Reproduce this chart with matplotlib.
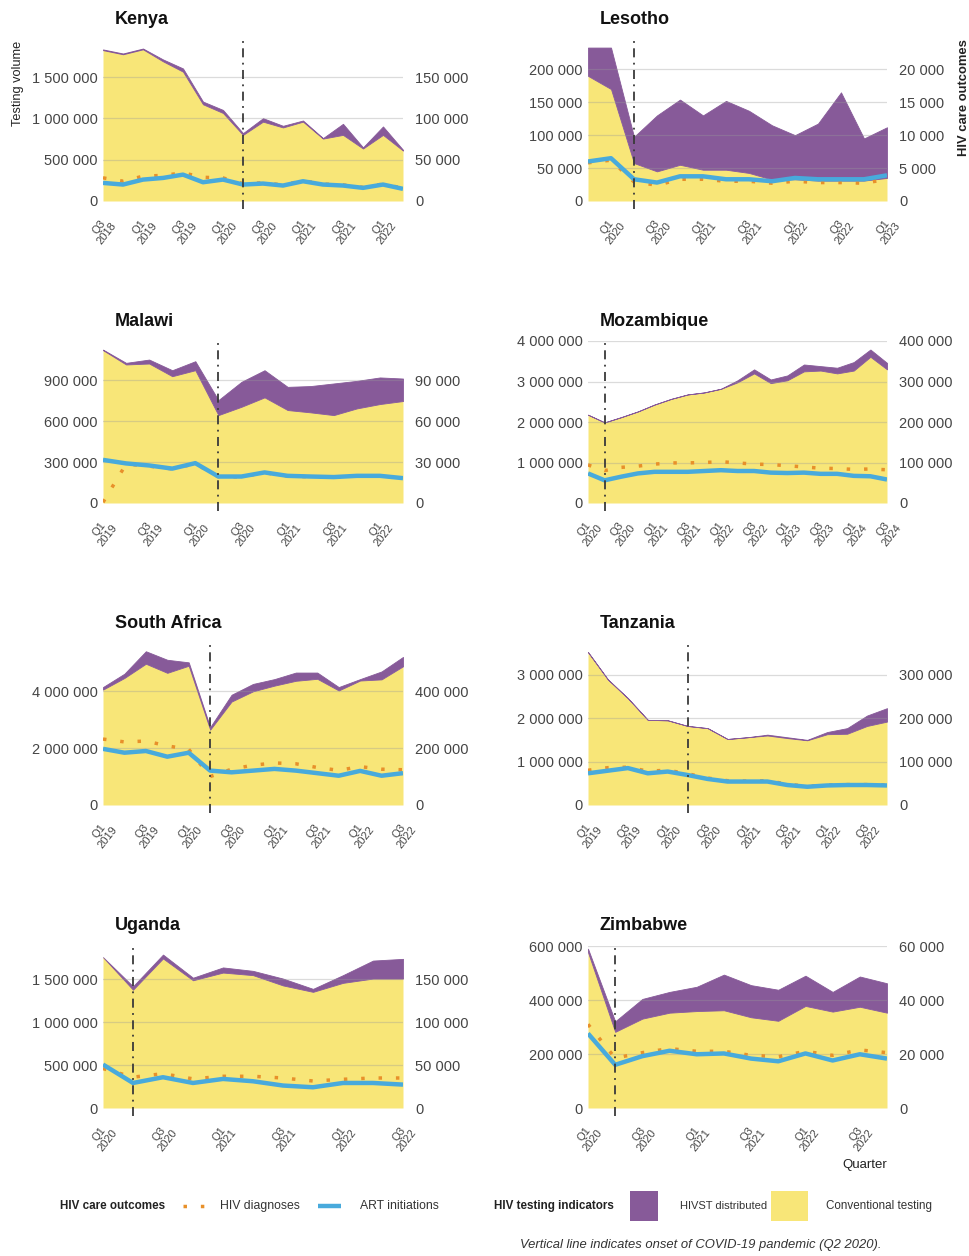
import matplotlib
matplotlib.use("Agg")
import matplotlib.pyplot as plt
from matplotlib.lines import Line2D
from matplotlib.patches import Rectangle
from matplotlib.ticker import FuncFormatter
from matplotlib.transforms import ScaledTranslation

plt.rcParams['font.family'] = ['Liberation Sans', 'DejaVu Sans']

# ---------------------------------------------------------------- data
kenya_q = ["Q3 2018", "Q4 2018", "Q1 2019", "Q2 2019", "Q3 2019", "Q4 2019", "Q1 2020", "Q2 2020",
           "Q3 2020", "Q4 2020", "Q1 2021", "Q2 2021", "Q3 2021", "Q4 2021", "Q1 2022", "Q2 2022"]
kenya_conv = [1825000, 1775000, 1835000, 1690000, 1565000, 1170000, 1065000, 800000,
              960000, 890000, 960000, 755000, 800000, 635000, 800000, 610000]
kenya_hivst = [9000, 10000, 10000, 23000, 39000, 33000, 37000, 21000,
               42000, 20000, 14000, 6000, 134000, 14000, 102000, 10000]
kenya_diag = [28000, 24000, 30000, 31000, 34000, 28700, 27900, 21000,
              22000, 19500, 24500, 20500, 19500, 16500, 20500, 15500]
kenya_art = [21900, 19900, 25900, 27900, 31900, 22700, 25900, 19900,
             21100, 18700, 23900, 19900, 18700, 15900, 19900, 14700]

lesotho_q = ["Q4 2019", "Q1 2020", "Q2 2020", "Q3 2020", "Q4 2020", "Q1 2021", "Q2 2021",
             "Q3 2021", "Q4 2021", "Q1 2022", "Q2 2022", "Q3 2022", "Q4 2022", "Q1 2023"]
lesotho_conv = [190000, 170000, 57600, 45000, 55000, 47500, 47500,
                42600, 32600, 33000, 31000, 31000, 31000, 35000]
lesotho_hivst = [43000, 63000, 39900, 85000, 99000, 82500, 104500,
                 94400, 82400, 67000, 86600, 134000, 64000, 77000]
lesotho_diag = [5800, 6200, 2900, 2400, 3300, 3300, 3000, 3000, 2700, 3000, 2800, 2800, 2700, 3300]
lesotho_art = [6000, 6500, 3300, 2800, 3750, 3750, 3300, 3300, 3000, 3500, 3300, 3300, 3300, 3900]

malawi_q = ["Q1 2019", "Q2 2019", "Q3 2019", "Q4 2019", "Q1 2020", "Q2 2020", "Q3 2020",
            "Q4 2020", "Q1 2021", "Q2 2021", "Q3 2021", "Q4 2021", "Q1 2022", "Q2 2022"]
malawi_conv = [1120000, 1015000, 1022000, 929000, 973000, 644000, 705000,
               774000, 681000, 664000, 644000, 693000, 725000, 747000]
malawi_hivst = [4000, 12000, 29000, 44000, 66000, 110000, 183000,
                199000, 170000, 193000, 232000, 202000, 195000, 165000]
malawi_diag = [500, 28500, 27000, 25000, 28800, 19200, 19200, 22200, 19700, 19200, 18800, 19700, 19700, 18000]
malawi_art = [31600, 29000, 27500, 25200, 29200, 19400, 19400, 22400, 19900, 19400, 19000, 19900, 19900, 18200]

mozambique_q = ["Q1 2020", "Q2 2020", "Q3 2020", "Q4 2020", "Q1 2021", "Q2 2021", "Q3 2021",
                "Q4 2021", "Q1 2022", "Q2 2022", "Q3 2022", "Q4 2022", "Q1 2023", "Q2 2023",
                "Q3 2023", "Q4 2023", "Q1 2024", "Q2 2024", "Q3 2024"]
mozambique_conv = [2180000, 1990000, 2120000, 2260000, 2430000, 2570000, 2680000,
                   2730000, 2820000, 2980000, 3200000, 2960000, 3030000, 3250000,
                   3270000, 3200000, 3270000, 3610000, 3300000]
mozambique_hivst = [0, 0, 0, 0, 0, 0, 0,
                    0, 0, 50000, 100000, 90000, 120000, 170000,
                    110000, 140000, 210000, 180000, 160000]
mozambique_diag = [94000, 80000, 88000, 91000, 96000, 99000, 99000, 100000, 102000, 99000,
                   96000, 95000, 92000, 89000, 86000, 85000, 83000, 84000, 82000]
mozambique_art = [73000, 56000, 65000, 73000, 77000, 77000, 77000, 79000, 81000, 79000,
                  79000, 75000, 74000, 75000, 72000, 72000, 67000, 66000, 58000]

southafrica_q = ["Q1 2019", "Q2 2019", "Q3 2019", "Q4 2019", "Q1 2020", "Q2 2020", "Q3 2020",
                 "Q4 2020", "Q1 2021", "Q2 2021", "Q3 2021", "Q4 2021", "Q1 2022", "Q2 2022", "Q3 2022"]
southafrica_conv = [4060000, 4470000, 4970000, 4650000, 4900000, 2650000, 3640000,
                    4000000, 4200000, 4370000, 4440000, 4030000, 4380000, 4420000, 4880000]
southafrica_hivst = [90000, 150000, 440000, 460000, 120000, 90000, 240000,
                     260000, 230000, 290000, 220000, 120000, 50000, 280000, 330000]
southafrica_diag = [232000, 222000, 225000, 208000, 196000, 100000, 126000, 140000,
                    148000, 145000, 132000, 122000, 135000, 126000, 124000]
southafrica_art = [197500, 184000, 190000, 170000, 184000, 121000, 115000, 121000,
                   127000, 121000, 112000, 103000, 120000, 103000, 112000]

tanzania_q = ["Q1 2019", "Q2 2019", "Q3 2019", "Q4 2019", "Q1 2020", "Q2 2020", "Q3 2020", "Q4 2020",
              "Q1 2021", "Q2 2021", "Q3 2021", "Q4 2021", "Q1 2022", "Q2 2022", "Q3 2022", "Q4 2022"]
tanzania_conv = [3520000, 2890000, 2460000, 1960000, 1950000, 1820000, 1770000, 1520000,
                 1560000, 1600000, 1540000, 1490000, 1630000, 1640000, 1820000, 1920000]
tanzania_hivst = [0, 0, 0, 0, 0, 0, 0, 0,
                  0, 20000, 20000, 10000, 50000, 130000, 240000, 310000]
tanzania_diag = [80000, 86000, 87000, 78000, 80000, 72000, 62000, 56000,
                 55000, 56000, 48000, 43000, 46000, 47000, 47000, 46000]
tanzania_art = [73000, 79000, 85000, 73000, 77000, 69000, 60000, 54000,
                54000, 54000, 46000, 42000, 45000, 46000, 46000, 45000]

uganda_q = ["Q1 2020", "Q2 2020", "Q3 2020", "Q4 2020", "Q1 2021", "Q2 2021",
            "Q3 2021", "Q4 2021", "Q1 2022", "Q2 2022", "Q3 2022"]
uganda_conv = [1760000, 1380000, 1745000, 1490000, 1580000, 1550000,
               1430000, 1355000, 1460000, 1510000, 1510000]
uganda_hivst = [0, 40000, 45000, 30000, 60000, 50000, 80000, 35000, 90000, 210000, 230000]
uganda_diag = [46000, 36000, 40000, 34000, 37000, 37000, 35000, 31500, 33500, 35000, 35000]
uganda_art = [50700, 29200, 35900, 29200, 33900, 31200, 26200, 24200, 29200, 29200, 27300]

zimbabwe_q = ["Q1 2020", "Q2 2020", "Q3 2020", "Q4 2020", "Q1 2021", "Q2 2021",
              "Q3 2021", "Q4 2021", "Q1 2022", "Q2 2022", "Q3 2022", "Q4 2022"]
zimbabwe_conv = [577000, 282000, 331000, 353000, 359000, 362000,
                 336000, 323000, 378000, 357000, 375000, 353000]
zimbabwe_hivst = [13000, 39000, 73000, 77000, 90000, 132000,
                  119000, 115000, 112000, 73000, 112000, 109000]
zimbabwe_diag = [31000, 18500, 20500, 22000, 21000, 21000, 19500, 19000, 21000, 19500, 21500, 20500]
zimbabwe_art = [27600, 16000, 19200, 21200, 19900, 20200, 18300, 17300, 20200, 17600, 19900, 18300]

covid_onset = "Q2 2020"

# ---------------------------------------------------------------- style
YELLOW = "#F8E678"
PURPLE = "#875A99"
BLUE = "#48AADC"
ORANGE = "#E8902A"
TICK_COLOR = "#454545"

W, H = 970, 1256
fig = plt.figure(figsize=(W / 100, H / 100), dpi=100)
fig.patch.set_facecolor("white")

COL_LEFT = [103, 588]
COL_WIDTH = [300, 299]
ROW_TOP = [39, 341, 643, 946]
AX_H = 170
ZERO_PAD = 8  # pixels between the zero line and the bottom of each panel


def fx(px):
    return px / W


def fy(py):
    return 1 - py / H


def thousands(v, _pos=None):
    return f"{int(round(v)):,}".replace(",", " ")


panels = [
    ("Kenya", kenya_q, kenya_conv, kenya_hivst, kenya_diag, kenya_art,
     1960000, [0, 500000, 1000000, 1500000], 0, 0),
    ("Lesotho", lesotho_q, lesotho_conv, lesotho_hivst, lesotho_diag, lesotho_art,
     246000, [0, 50000, 100000, 150000, 200000], 0, 1),
    ("Malawi", malawi_q, malawi_conv, malawi_hivst, malawi_diag, malawi_art,
     1187000, [0, 300000, 600000, 900000], 1, 0),
    ("Mozambique", mozambique_q, mozambique_conv, mozambique_hivst, mozambique_diag, mozambique_art,
     4000000, [0, 1000000, 2000000, 3000000, 4000000], 1, 1),
    ("South Africa", southafrica_q, southafrica_conv, southafrica_hivst, southafrica_diag, southafrica_art,
     5700000, [0, 2000000, 4000000], 2, 0),
    ("Tanzania", tanzania_q, tanzania_conv, tanzania_hivst, tanzania_diag, tanzania_art,
     3730000, [0, 1000000, 2000000, 3000000], 2, 1),
    ("Uganda", uganda_q, uganda_conv, uganda_hivst, uganda_diag, uganda_art,
     1890000, [0, 500000, 1000000, 1500000], 3, 0),
    ("Zimbabwe", zimbabwe_q, zimbabwe_conv, zimbabwe_hivst, zimbabwe_diag, zimbabwe_art,
     600000, [0, 200000, 400000, 600000], 3, 1),
]

# shift rotated quarter labels a little to the right of their tick
label_shift = ScaledTranslation(6 / 100, 0, fig.dpi_scale_trans)

for name, quarters, conv, hivst, diag, art, ymax, yticks, row, col in panels:
    left, top, width = COL_LEFT[col], ROW_TOP[row], COL_WIDTH[col]
    ax = fig.add_axes([fx(left), fy(top + AX_H), width / W, AX_H / H])
    x = list(range(len(quarters)))
    total = [c + h for c, h in zip(conv, hivst)]
    ylo = -ymax * ZERO_PAD / (AX_H - ZERO_PAD)

    # stacked testing volumes
    ax.fill_between(x, 0, conv, color=YELLOW, lw=0, zorder=1)
    ax.fill_between(x, conv, total, facecolor=PURPLE, edgecolor=PURPLE, lw=0.6, zorder=1.2)
    for t in yticks:
        if t > 0:
            ax.axhline(t, color="#9a9a9a", lw=0.9, alpha=0.35, zorder=1.5)

    ax.set_xlim(0, len(quarters) - 1)
    ax.set_ylim(ylo, ymax)
    ax.set_yticks(yticks)
    ax.yaxis.set_major_formatter(FuncFormatter(thousands))
    tick_idx = [i for i, q in enumerate(quarters) if q[:2] in ("Q1", "Q3")]
    ax.set_xticks(tick_idx)
    labels = ax.set_xticklabels([quarters[i].replace(" ", "\n") for i in tick_idx],
                                rotation=52, ha="right", va="top", rotation_mode="anchor",
                                fontsize=8, color=TICK_COLOR, linespacing=1.0,
                                multialignment="center")
    for lab in labels:
        lab.set_transform(lab.get_transform() + label_shift)
    ax.tick_params(axis="y", length=0, labelsize=10.5, labelcolor=TICK_COLOR, pad=4)
    ax.tick_params(axis="x", length=0, pad=4)
    for s in ax.spines.values():
        s.set_visible(False)

    # care outcomes on the secondary axis
    ax2 = ax.twinx()
    ax2.set_ylim(ylo / 10, ymax / 10)
    ax2.set_yticks([t / 10 for t in yticks])
    ax2.yaxis.set_major_formatter(FuncFormatter(thousands))
    ax2.tick_params(axis="y", length=0, labelsize=10.5, labelcolor=TICK_COLOR, pad=9)
    for s in ax2.spines.values():
        s.set_visible(False)
    ax2.plot(x, diag, color=ORANGE, lw=2.5, ls=(0, (1, 4)), dash_capstyle="butt", zorder=3)
    ax2.plot(x, art, color=BLUE, lw=3.2, solid_capstyle="butt", solid_joinstyle="round", zorder=4)
    ax2.axvline(quarters.index(covid_onset), color="#3a3a3a", lw=1.3,
                ls=(0, (5, 3, 1, 3)), zorder=5, clip_on=False)

    fig.text(fx(left + 12), fy(top - 20), name, ha="left", va="center",
             fontsize=13, fontweight="bold", color="#111111")

# axis titles
fig.text(fx(18), fy(83), "Testing volume", rotation=90, ha="center", va="center",
         fontsize=9.2, color="#222222")
fig.text(fx(964), fy(98), "HIV care outcomes", rotation=90, ha="center", va="center",
         fontsize=9.4, fontweight="bold", color="#222222")
fig.text(fx(887), fy(1165), "Quarter", ha="right", va="center", fontsize=9.5, color="#222222")

# legend row
LY = 1206
fig.text(fx(60), fy(LY), "HIV care outcomes", ha="left", va="center",
         fontsize=8.4, fontweight="bold", color="#222222")
fig.add_artist(Line2D([fx(183), fx(206)], [fy(LY), fy(LY)], transform=fig.transFigure,
                      color=ORANGE, lw=2.5, ls=(0, (1, 4)), dash_capstyle="butt"))
fig.text(fx(220), fy(LY), "HIV diagnoses", ha="left", va="center", fontsize=8.8, color="#333333")
fig.add_artist(Line2D([fx(318), fx(341)], [fy(LY), fy(LY)], transform=fig.transFigure,
                      color=BLUE, lw=3.2, solid_capstyle="butt"))
fig.text(fx(360), fy(LY), "ART initiations", ha="left", va="center", fontsize=8.8, color="#333333")
fig.text(fx(494), fy(LY), "HIV testing indicators", ha="left", va="center",
         fontsize=8.4, fontweight="bold", color="#222222")
fig.add_artist(Rectangle((fx(630), fy(1221)), 28 / W, 30 / H, transform=fig.transFigure,
                         facecolor=PURPLE, edgecolor="none"))
fig.text(fx(680), fy(LY), "HIVST distributed", ha="left", va="center", fontsize=8.0, color="#333333")
fig.add_artist(Rectangle((fx(771), fy(1221)), 37 / W, 30 / H, transform=fig.transFigure,
                         facecolor=YELLOW, edgecolor="none"))
fig.text(fx(826), fy(LY), "Conventional testing", ha="left", va="center", fontsize=8.4, color="#333333")

fig.text(fx(520), fy(1245), "Vertical line indicates onset of COVID-19 pandemic (Q2 2020).",
         ha="left", va="center", fontsize=9.4, style="italic", color="#333333")

fig.savefig("out.png", dpi=100, facecolor="white")
